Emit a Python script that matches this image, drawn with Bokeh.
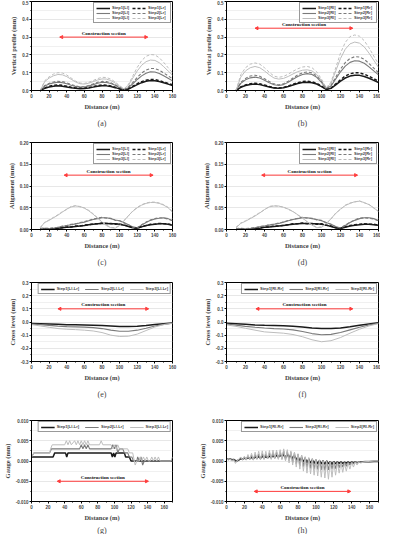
from bokeh.plotting import figure
from bokeh.layouts import gridplot
from bokeh.models import (Range1d, FixedTicker, NumeralTickFormatter, Legend, LegendItem,
                          Arrow, NormalHead, Label, Title)
from bokeh.embed import file_html
from bokeh.resources import INLINE

# ---------------- data ----------------
x_vp = [10, 15, 20, 25, 30, 35, 40, 45, 50, 55, 60, 65, 70, 75, 80, 85, 90, 95, 100, 105,
        110, 115, 120, 125, 130, 135, 140, 145, 150, 155, 160]

vp_L_s1_l = [0, 0.012, 0.02, 0.024, 0.026, 0.024, 0.02, 0.015, 0.012, 0.01, 0.011, 0.014, 0.019, 0.024, 0.027, 0.026,
             0.022, 0.016, 0.009, 0.003, 0.008, 0.02, 0.033, 0.044, 0.052, 0.056, 0.055, 0.05, 0.043, 0.036, 0.028]
vp_L_s1_r = [0, 0.014, 0.024, 0.029, 0.031, 0.029, 0.024, 0.018, 0.014, 0.012, 0.013, 0.017, 0.022, 0.028, 0.031, 0.03,
             0.025, 0.018, 0.01, 0.003, 0.01, 0.024, 0.038, 0.05, 0.058, 0.062, 0.061, 0.056, 0.048, 0.04, 0.032]
vp_L_s2_l = [0, 0.025, 0.036, 0.043, 0.046, 0.044, 0.038, 0.03, 0.023, 0.019, 0.02, 0.025, 0.033, 0.041, 0.046, 0.045,
             0.039, 0.029, 0.016, 0.005, 0.016, 0.038, 0.062, 0.082, 0.097, 0.105, 0.104, 0.096, 0.083, 0.069, 0.054]
vp_L_s2_r = [0, 0.028, 0.04, 0.048, 0.052, 0.05, 0.043, 0.034, 0.026, 0.021, 0.022, 0.028, 0.037, 0.046, 0.051, 0.05,
             0.043, 0.032, 0.018, 0.005, 0.02, 0.046, 0.074, 0.098, 0.115, 0.124, 0.123, 0.114, 0.099, 0.082, 0.066]
vp_L_s3_l = [0, 0.05, 0.07, 0.083, 0.09, 0.088, 0.078, 0.063, 0.048, 0.038, 0.036, 0.041, 0.05, 0.059, 0.065, 0.064,
             0.056, 0.042, 0.024, 0.008, 0.03, 0.07, 0.11, 0.142, 0.162, 0.171, 0.169, 0.156, 0.134, 0.11, 0.086]
vp_L_s3_r = [0, 0.055, 0.077, 0.092, 0.1, 0.098, 0.087, 0.07, 0.053, 0.042, 0.04, 0.046, 0.056, 0.067, 0.074, 0.073,
             0.064, 0.048, 0.027, 0.009, 0.035, 0.082, 0.13, 0.168, 0.192, 0.202, 0.2, 0.184, 0.158, 0.128, 0.1]

vp_R_s1_l = [0, 0.018, 0.028, 0.034, 0.036, 0.033, 0.027, 0.02, 0.014, 0.012, 0.015, 0.022, 0.031, 0.039, 0.045, 0.047,
             0.044, 0.036, 0.022, 0.006, 0.012, 0.032, 0.053, 0.07, 0.081, 0.086, 0.085, 0.079, 0.069, 0.057, 0.045]
vp_R_s1_r = [0, 0.02, 0.031, 0.038, 0.041, 0.038, 0.031, 0.023, 0.016, 0.014, 0.017, 0.025, 0.035, 0.044, 0.05, 0.052,
             0.049, 0.04, 0.025, 0.007, 0.014, 0.037, 0.061, 0.081, 0.094, 0.1, 0.099, 0.092, 0.08, 0.066, 0.052]
vp_R_s2_l = [0, 0.04, 0.06, 0.071, 0.075, 0.07, 0.058, 0.044, 0.032, 0.028, 0.033, 0.046, 0.063, 0.079, 0.09, 0.095,
             0.09, 0.074, 0.045, 0.01, 0.025, 0.065, 0.105, 0.137, 0.158, 0.167, 0.165, 0.153, 0.133, 0.11, 0.088]
vp_R_s2_r = [0, 0.045, 0.068, 0.081, 0.086, 0.08, 0.066, 0.05, 0.037, 0.032, 0.038, 0.052, 0.07, 0.088, 0.1, 0.104,
             0.099, 0.082, 0.05, 0.011, 0.029, 0.075, 0.12, 0.157, 0.18, 0.19, 0.188, 0.175, 0.152, 0.126, 0.1]
vp_R_s3_l = [0, 0.075, 0.11, 0.128, 0.135, 0.128, 0.11, 0.088, 0.07, 0.064, 0.068, 0.079, 0.093, 0.106, 0.114, 0.116,
             0.11, 0.09, 0.055, 0.014, 0.04, 0.11, 0.18, 0.232, 0.262, 0.272, 0.266, 0.245, 0.21, 0.17, 0.13]
vp_R_s3_r = [0, 0.088, 0.128, 0.148, 0.155, 0.148, 0.128, 0.102, 0.081, 0.074, 0.079, 0.092, 0.108, 0.122, 0.132, 0.135,
             0.128, 0.105, 0.064, 0.016, 0.047, 0.128, 0.21, 0.27, 0.303, 0.312, 0.305, 0.28, 0.24, 0.194, 0.148]

x_al = x_vp
al_L_s1_l = [0.002, 0.002, 0.001, 0.002, 0.003, 0.004, 0.005, 0.006, 0.007, 0.008, 0.009, 0.011, 0.012, 0.013, 0.014, 0.014,
             0.013, 0.013, 0.012, 0.01, 0.007, 0.004, 0.003, 0.006, 0.009, 0.011, 0.012, 0.013, 0.013, 0.012, 0.01]
al_L_s1_r = [0.001, 0.002, 0.002, 0.001, 0.003, 0.004, 0.006, 0.006, 0.008, 0.008, 0.01, 0.011, 0.013, 0.013, 0.015, 0.014,
             0.014, 0.012, 0.013, 0.01, 0.008, 0.004, 0.003, 0.007, 0.009, 0.012, 0.012, 0.014, 0.013, 0.013, 0.01]
al_L_s2_l = [0.003, 0.003, 0.002, 0.003, 0.005, 0.007, 0.009, 0.011, 0.013, 0.015, 0.017, 0.02, 0.023, 0.025, 0.027, 0.027,
             0.025, 0.022, 0.02, 0.016, 0.011, 0.006, 0.004, 0.01, 0.016, 0.021, 0.024, 0.026, 0.027, 0.025, 0.02]
al_L_s2_r = [0.002, 0.003, 0.003, 0.004, 0.005, 0.008, 0.009, 0.012, 0.013, 0.016, 0.018, 0.021, 0.024, 0.026, 0.028, 0.026,
             0.026, 0.021, 0.02, 0.015, 0.011, 0.005, 0.004, 0.011, 0.017, 0.022, 0.025, 0.027, 0.026, 0.024, 0.02]
al_L_s3_l = [0.005, 0.016, 0.021, 0.027, 0.033, 0.04, 0.047, 0.052, 0.054, 0.053, 0.049, 0.043, 0.035, 0.026, 0.017, 0.009,
             0.004, 0.003, 0.009, 0.02, 0.032, 0.042, 0.05, 0.056, 0.06, 0.062, 0.062, 0.06, 0.056, 0.05, 0.04]
al_L_s3_r = [0.004, 0.017, 0.022, 0.028, 0.034, 0.041, 0.046, 0.053, 0.055, 0.052, 0.05, 0.044, 0.036, 0.027, 0.018, 0.01,
             0.005, 0.004, 0.01, 0.021, 0.031, 0.043, 0.051, 0.057, 0.061, 0.063, 0.063, 0.061, 0.057, 0.051, 0.041]

al_R_s1_l = [0.001, 0.001, 0.0, 0.001, 0.002, 0.003, 0.005, 0.006, 0.007, 0.008, 0.009, 0.011, 0.012, 0.013, 0.014, 0.014,
             0.013, 0.013, 0.012, 0.01, 0.007, 0.004, 0.002, 0.005, 0.008, 0.01, 0.011, 0.012, 0.012, 0.011, 0.01]
al_R_s1_r = [0.001, 0.002, 0.001, 0.001, 0.003, 0.003, 0.006, 0.006, 0.008, 0.008, 0.01, 0.011, 0.013, 0.013, 0.015, 0.013,
             0.014, 0.012, 0.013, 0.01, 0.008, 0.004, 0.003, 0.006, 0.009, 0.011, 0.012, 0.013, 0.012, 0.012, 0.01]
al_R_s2_l = [0.002, 0.002, 0.001, 0.002, 0.004, 0.006, 0.008, 0.01, 0.012, 0.014, 0.017, 0.02, 0.023, 0.025, 0.027, 0.027,
             0.025, 0.023, 0.02, 0.016, 0.012, 0.007, 0.003, 0.009, 0.016, 0.021, 0.025, 0.027, 0.027, 0.025, 0.02]
al_R_s2_r = [0.002, 0.003, 0.002, 0.003, 0.004, 0.007, 0.008, 0.011, 0.012, 0.015, 0.017, 0.021, 0.023, 0.026, 0.028, 0.026,
             0.026, 0.022, 0.021, 0.015, 0.012, 0.006, 0.004, 0.01, 0.017, 0.022, 0.026, 0.027, 0.026, 0.024, 0.02]
al_R_s3_l = [0.004, 0.014, 0.019, 0.025, 0.031, 0.038, 0.046, 0.052, 0.054, 0.054, 0.051, 0.047, 0.041, 0.034, 0.026, 0.018,
             0.01, 0.004, 0.005, 0.013, 0.025, 0.037, 0.047, 0.055, 0.06, 0.064, 0.065, 0.062, 0.057, 0.05, 0.041]
al_R_s3_r = [0.005, 0.015, 0.02, 0.026, 0.032, 0.039, 0.045, 0.053, 0.055, 0.053, 0.052, 0.046, 0.042, 0.033, 0.027, 0.017,
             0.011, 0.005, 0.006, 0.014, 0.024, 0.038, 0.046, 0.056, 0.061, 0.063, 0.066, 0.061, 0.058, 0.049, 0.042]

x_cl = [0, 10, 20, 30, 40, 50, 60, 70, 80, 90, 100, 110, 120, 130, 140, 150, 160]
cl_L_s1 = [-0.012, -0.014, -0.016, -0.018, -0.02, -0.021, -0.022, -0.024, -0.027, -0.031, -0.035, -0.035, -0.032,
           -0.026, -0.019, -0.013, -0.008]
cl_L_s2 = [-0.015, -0.02, -0.026, -0.031, -0.035, -0.037, -0.039, -0.043, -0.05, -0.062, -0.07, -0.07, -0.062,
           -0.047, -0.03, -0.018, -0.01]
cl_L_s3 = [-0.02, -0.03, -0.04, -0.05, -0.055, -0.058, -0.062, -0.068, -0.08, -0.1, -0.11, -0.108, -0.092,
           -0.065, -0.038, -0.02, -0.01]
cl_R_s1 = [-0.01, -0.014, -0.018, -0.022, -0.025, -0.027, -0.029, -0.032, -0.038, -0.045, -0.05, -0.05, -0.045,
           -0.036, -0.025, -0.015, -0.005]
cl_R_s2 = [-0.015, -0.024, -0.033, -0.04, -0.046, -0.05, -0.053, -0.06, -0.072, -0.088, -0.097, -0.094, -0.08,
           -0.06, -0.04, -0.022, -0.01]
cl_R_s3 = [-0.022, -0.033, -0.048, -0.062, -0.075, -0.08, -0.085, -0.095, -0.112, -0.135, -0.15, -0.142, -0.118,
           -0.085, -0.055, -0.03, -0.012]

gL_s1_x = [0, 26, 28, 41, 42.5, 44, 96, 97.5, 99, 100.5, 102, 112, 113.5, 118, 120, 170]
gL_s1_y = [0.001, 0.001, 0.002, 0.002, 0.001, 0.002, 0.002, 0.001, 0.002, 0.001, 0.002, 0.002, 0.001, 0.001, 0.0, 0.0]
gL_s2_x = [0, 3, 22, 24, 58, 60, 62, 64, 66, 68, 70, 96, 98, 100, 102, 104, 106, 110, 112, 116, 118, 121, 123,
           127, 128, 130, 132, 134, 136, 170]
gL_s2_y = [0.001, 0.002, 0.002, 0.003, 0.003, 0.004, 0.003, 0.004, 0.003, 0.004, 0.003, 0.003, 0.004, 0.003, 0.004,
           0.002, 0.003, 0.003, 0.002, 0.002, 0.001, 0.001, 0.0, 0.0, 0.001, 0.0, 0.001, -0.001, 0.0, 0.0]
gL_s3_x = [0, 3, 22, 23, 25, 40, 42, 44, 46, 48, 52, 54, 56, 58, 60, 62, 64, 66, 68, 70, 82, 84, 86, 96, 98, 100,
           102, 104, 106, 116, 118, 122, 124, 125, 127, 130, 131, 133, 135, 137, 139, 141, 143, 145, 147, 149, 151,
           153, 155, 168, 170]
gL_s3_y = [0.001, 0.002, 0.002, 0.003, 0.004, 0.004, 0.005, 0.004, 0.005, 0.004, 0.005, 0.004, 0.005, 0.004, 0.005,
           0.004, 0.005, 0.004, 0.005, 0.004, 0.004, 0.005, 0.004, 0.004, 0.003, 0.004, 0.003, 0.004, 0.003, 0.003,
           0.002, 0.002, 0.0, -0.001, 0.0, 0.0, 0.001, 0.0, 0.001, 0.0, 0.001, 0.0, 0.0, 0.001, 0.0, 0.001, 0.0,
           0.001, 0.0, 0.0, 0.001]

gR_x = [0, 2, 4, 6, 8, 10, 12, 14, 16, 18, 20, 22, 24, 26, 28, 30, 32, 34, 36, 38, 40, 42, 44, 46, 48, 50, 52, 54,
        56, 58, 60, 62, 64, 66, 68, 70, 72, 74, 76, 78, 80, 82, 84, 86, 88, 90, 92, 94, 96, 98, 100, 102, 104, 106,
        108, 110, 112, 114, 116, 118, 120, 122, 124, 126, 128, 130, 132, 134, 136, 138, 140, 142, 144, 146, 148, 150,
        155, 160, 165, 170]
gR_s1 = [0.0005, 0.0004, 0.0005, 0.0003, 0.0004, 0.0001, 0.0, 0.0003, 0.0006, 0.0004,
         0.0007, 0.0005, 0.0008, 0.0006, 0.0009, 0.0006, 0.001, 0.0007, 0.0011, 0.0007,
         0.0012, 0.0008, 0.0011, 0.0008, 0.0012, 0.0009, 0.0013, 0.0009, 0.0014, 0.001,
         0.0015, 0.001, 0.0016, 0.0009, 0.0017, 0.0008, 0.0015, 0.0006, 0.0013, 0.0003,
         0.0011, 0.0, 0.0008, -0.0002, 0.0006, -0.0004, 0.0004, -0.0005, 0.0003, -0.0006,
         0.0002, -0.0007, 0.0001, -0.0007, 0.0, -0.0008, 0.0, -0.0007, -0.0001, -0.0008,
         -0.0001, -0.0007, -0.0002, -0.0006, -0.0002, -0.0006, -0.0003, -0.0005, -0.0002, -0.0005,
         -0.0002, -0.0004, -0.0002, -0.0004, -0.0003, -0.0002,
         -0.0002, -0.0002, -0.0001, -0.0001]
gR_s2 = [0.0005, 0.0003, 0.0006, 0.0002, 0.0004, -0.0002, 0.0002, 0.0004, 0.0008, 0.0003,
         0.0009, 0.0004, 0.0012, 0.0004, 0.0014, 0.0003, 0.0016, 0.0005, 0.0017, 0.0004,
         0.0018, 0.0005, 0.0017, 0.0006, 0.002, 0.0006, 0.0021, 0.0007, 0.0022, 0.0006,
         0.0023, 0.0005, 0.0025, 0.0003, 0.0024, 0.0, 0.0022, -0.0004, 0.002, -0.0008,
         0.0017, -0.0012, 0.0014, -0.0014, 0.001, -0.0016, 0.0008, -0.0018, 0.0006, -0.002,
         0.0004, -0.0021, 0.0003, -0.0022, 0.0002, -0.0023, 0.0001, -0.0022, 0.0, -0.002,
         0.0, -0.0019, -0.0001, -0.0017, -0.0001, -0.0015, -0.0002, -0.0013, -0.0002, -0.001,
         -0.0002, -0.0007, -0.0001, -0.0005, -0.0002, -0.0002,
         -0.0001, -0.0001, 0.0, 0.0]
gR_s3 = [0.0006, 0.0002, 0.0005, 0.0, 0.0002, -0.0006, 0.0, 0.0005, 0.001, 0.0002,
         0.0012, 0.0002, 0.0016, 0.0003, 0.0019, 0.0002, 0.0022, 0.0004, 0.0024, 0.0003,
         0.0025, 0.0004, 0.0024, 0.0005, 0.0026, 0.0004, 0.0027, 0.0005, 0.0027, 0.0004,
         0.0028, 0.0003, 0.003, 0.0, 0.0028, -0.0005, 0.0025, -0.001, 0.0022, -0.0015,
         0.0018, -0.002, 0.0014, -0.0025, 0.001, -0.003, 0.0008, -0.0032, 0.0006, -0.0035,
         0.0004, -0.0037, 0.0002, -0.004, 0.0, -0.0042, -0.0001, -0.0045, -0.0002, -0.004,
         -0.0003, -0.0035, -0.0004, -0.003, -0.0005, -0.0028, -0.0006, -0.0025, -0.0005, -0.002,
         -0.0004, -0.0015, -0.0003, -0.001, -0.0002, -0.0005,
         -0.0002, -0.0001, 0.0, 0.0]

# construction section (start, end, level) per panel
cs_a = (32, 132, 0.30)
cs_b = (30, 133, 0.35)
cs_c = (37, 138, 0.125)
cs_d = (37, 138, 0.125)
cs_e = (30, 133, 0.10)
cs_f = (31, 133, 0.10)
cs_g = (31, 141, -0.005)
cs_h = (31, 139, -0.0075)

captions = ["(a)", "(b)", "(c)", "(d)", "(e)", "(f)", "(g)", "(h)"]

# ---------------- styling ----------------
SERIF = "Liberation Serif"
SANS = "Liberation Sans"
C1, C2, C3 = "#1a1a1a", "#7a7a7a", "#bdbdbd"
W1, W2, W3 = 1.5, 1.1, 1.0
DASH = "3 2"

COLS = [dict(left=24, fw=148, right=18), dict(left=36, fw=152, right=2)]
ROWS = [dict(top=1, fh=89, bottom=45, cap=9),
        dict(top=7, fh=92, bottom=36, cap=8),
        dict(top=12, fh=87, bottom=33, cap=8),
        dict(top=18, fh=89, bottom=25, cap=0)]


def make_panel(row, col, caption, ylabel, yr, yticks, yfmt, xr, xticks, cs):
    c, r = COLS[col], ROWS[row]
    p = figure(width=c["left"] + c["fw"] + c["right"], height=r["top"] + r["fh"] + r["bottom"],
               x_range=Range1d(*xr), y_range=Range1d(*yr), output_backend="svg",
               toolbar_location=None, title=None,
               min_border_left=c["left"], min_border_right=c["right"],
               min_border_top=r["top"], min_border_bottom=r["bottom"])
    p.outline_line_color = "black"
    p.outline_line_width = 1
    step = yticks[1] - yticks[0]
    p.yaxis.ticker = FixedTicker(ticks=yticks, minor_ticks=[t + step / 2 for t in yticks[:-1]])
    p.yaxis.formatter = NumeralTickFormatter(format=yfmt)
    xstep = xticks[1] - xticks[0]
    p.xaxis.ticker = FixedTicker(ticks=xticks, minor_ticks=[t + xstep / 2 for t in xticks] )
    p.xgrid.visible = False
    p.ygrid.grid_line_color = "#d6d6d6"
    p.ygrid.grid_line_width = 0.6
    p.ygrid.minor_grid_line_color = "#e6e6e6"
    p.ygrid.minor_grid_line_width = 0.6
    p.xaxis.axis_label = "Distance (m)"
    p.yaxis.axis_label = ylabel
    for ax in (p.xaxis[0], p.yaxis[0]):
        ax.axis_label_text_font = SERIF
        ax.axis_label_text_font_style = "bold"
        ax.axis_label_text_font_size = "6.5px"
        ax.axis_label_standoff = 2
        ax.major_label_text_font = SANS
        ax.major_label_text_font_style = "bold"
        ax.major_label_text_font_size = "4.5px"
        ax.major_label_standoff = 1
        ax.major_tick_out = 2
        ax.major_tick_in = 0
        ax.minor_tick_out = 1
        ax.minor_tick_in = 0
        ax.axis_line_color = "black"
    # construction section arrow
    x0, x1, yl = cs
    p.add_layout(Arrow(x_start=x0, y_start=yl, x_end=x1, y_end=yl, line_color="#ff3b3b", line_width=1,
                       start=NormalHead(size=3, fill_color="#ff3b3b", line_color="#ff3b3b"),
                       end=NormalHead(size=3, fill_color="#ff3b3b", line_color="#ff3b3b")))
    p.add_layout(Label(x=(x0 + x1) / 2, y=yl, y_offset=1.5, text="Construction section", text_align="center",
                       text_baseline="bottom", text_font=SERIF, text_font_style="bold", text_font_size="5px",
                       text_color="#111111"))
    p.add_layout(Title(text=caption, align="center", text_font=SERIF, text_font_style="normal",
                       text_font_size="8px", standoff=r["cap"]), "below")
    return p


def six_line_legend(p, names, x, ys):
    rs_l = []
    rs_r = []
    for y, col, w in zip(ys[0::2], (C1, C2, C3), (W1, W2, W3)):
        rs_l.append(p.line(x, y, line_color=col, line_width=w))
    for y, col, w in zip(ys[1::2], (C1, C2, C3), (W1, W2, W3)):
        rs_r.append(p.line(x, y, line_color=col, line_width=w, line_dash=DASH))
    items = [LegendItem(label=n, renderers=[r]) for n, r in zip(names[0::2], rs_l)] + \
            [LegendItem(label=n, renderers=[r]) for n, r in zip(names[1::2], rs_r)]
    add_legend(p, items, ncols=2)


def three_line_legend(p, names, xs, ys):
    items = []
    for n, x, y, col, w in zip(names, xs, ys, (C1, C2, C3), (W1, W2, W3)):
        r = p.line(x, y, line_color=col, line_width=w)
        items.append(LegendItem(label=n, renderers=[r]))
    add_legend(p, items, horizontal=True)


def add_legend(p, items, ncols=None, horizontal=False):
    kw = dict(items=items, location="top_right", label_text_font=SANS, label_text_font_style="bold",
              label_text_font_size="4px", label_height=4, glyph_height=4, glyph_width=14, label_standoff=2,
              spacing=0, padding=2, margin=1, border_line_color="#333333", border_line_width=0.6,
              background_fill_alpha=1.0)
    if horizontal:
        kw.update(orientation="horizontal", spacing=6)
    else:
        kw.update(ncols=ncols)
    p.add_layout(Legend(**kw))


tick_vp = [0.0, 0.1, 0.2, 0.3, 0.4, 0.5]
tick_al = [0.0, 0.05, 0.10, 0.15, 0.20]
tick_cl = [-0.3, -0.2, -0.1, 0.0, 0.1, 0.2, 0.3]
tick_g = [-0.010, -0.005, 0.0, 0.005, 0.010]
tick_x = [0, 20, 40, 60, 80, 100, 120, 140, 160]

pa = make_panel(0, 0, captions[0], "Vertical profile (mm)", (0, 0.5), tick_vp, "0.0", (0, 160), tick_x, cs_a)
six_line_legend(pa, ["Step1[Ll]", "Step1[Lr]", "Step2[Ll]", "Step2[Lr]", "Step3[Ll]", "Step3[Lr]"], x_vp,
                [vp_L_s1_l, vp_L_s1_r, vp_L_s2_l, vp_L_s2_r, vp_L_s3_l, vp_L_s3_r])

pb = make_panel(0, 1, captions[1], "Vertical profile (mm)", (0, 0.5), tick_vp, "0.0", (0, 160), tick_x, cs_b)
six_line_legend(pb, ["Step1[Rl]", "Step1[Rr]", "Step2[Rl]", "Step2[Rr]", "Step3[Rl]", "Step3[Rr]"], x_vp,
                [vp_R_s1_l, vp_R_s1_r, vp_R_s2_l, vp_R_s2_r, vp_R_s3_l, vp_R_s3_r])

pc = make_panel(1, 0, captions[2], "Alignment (mm)", (0, 0.2), tick_al, "0.00", (0, 160), tick_x, cs_c)
six_line_legend(pc, ["Step1[Ll]", "Step1[Lr]", "Step2[Ll]", "Step2[Lr]", "Step3[Ll]", "Step3[Lr]"], x_al,
                [al_L_s1_l, al_L_s1_r, al_L_s2_l, al_L_s2_r, al_L_s3_l, al_L_s3_r])

pd_ = make_panel(1, 1, captions[3], "Alignment (mm)", (0, 0.2), tick_al, "0.00", (0, 160), tick_x, cs_d)
six_line_legend(pd_, ["Step1[Rl]", "Step1[Rr]", "Step2[Rl]", "Step2[Rr]", "Step3[Rl]", "Step3[Rr]"], x_al,
                [al_R_s1_l, al_R_s1_r, al_R_s2_l, al_R_s2_r, al_R_s3_l, al_R_s3_r])

pe = make_panel(2, 0, captions[4], "Cross level (mm)", (-0.3, 0.3), tick_cl, "0.0", (0, 160), tick_x, cs_e)
three_line_legend(pe, ["Step1[Ll-Lr]", "Step2[Ll-Lr]", "Step3[Ll-Lr]"], [x_cl] * 3, [cl_L_s1, cl_L_s2, cl_L_s3])

pf = make_panel(2, 1, captions[5], "Cross level (mm)", (-0.3, 0.3), tick_cl, "0.0", (0, 160), tick_x, cs_f)
three_line_legend(pf, ["Step1[Rl-Rr]", "Step2[Rl-Rr]", "Step3[Rl-Rr]"], [x_cl] * 3, [cl_R_s1, cl_R_s2, cl_R_s3])

pg = make_panel(3, 0, captions[6], "Gauge (mm)", (-0.010, 0.010), tick_g, "0.000", (0, 170), tick_x, cs_g)
three_line_legend(pg, ["Step1[Ll-Lr]", "Step2[Ll-Lr]", "Step3[Ll-Lr]"], [gL_s1_x, gL_s2_x, gL_s3_x],
                  [gL_s1_y, gL_s2_y, gL_s3_y])

ph = make_panel(3, 1, captions[7], "Gauge (mm)", (-0.010, 0.010), tick_g, "0.000", (0, 170), tick_x, cs_h)
three_line_legend(ph, ["Step1[Rl-Rr]", "Step2[Rl-Rr]", "Step3[Rl-Rr]"], [gR_x] * 3, [gR_s1, gR_s2, gR_s3])

grid = gridplot([[pa, pb], [pc, pd_], [pe, pf], [pg, ph]], toolbar_location=None)

open("out.html", "w").write(file_html(grid, INLINE))
